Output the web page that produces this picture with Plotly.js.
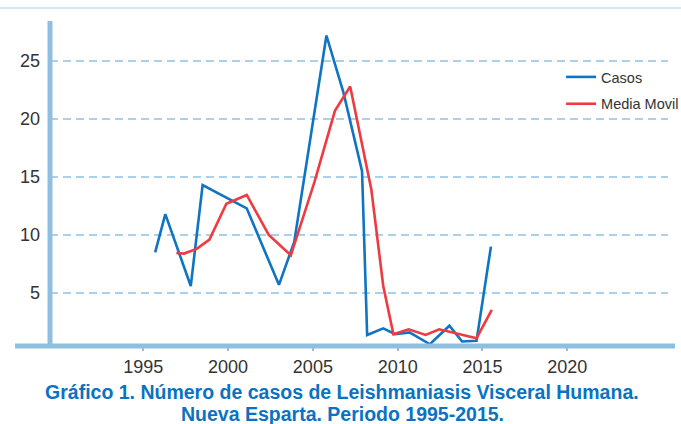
<!DOCTYPE html>
<html>
<head>
<meta charset="utf-8">
<script src="https://cdn.plot.ly/plotly-3.0.1.min.js"></script>
<style>html,body{margin:0;padding:0;background:#fff;}#chart{width:681px;height:424px;}</style>
</head>
<body>
<div id="chart"></div>
<script>
// Casos (blue)
const casosYear = [1995.7, 1996.3, 1997.8, 1998.5, 2001.1, 2003.0, 2003.9, 2005.8, 2006.8, 2007.9, 2008.2, 2009.15, 2009.85, 2010.7, 2011.9, 2013.05, 2013.8, 2014.65, 2015.5];
const casos     = [8.5, 11.8, 5.6, 14.3, 12.3, 5.7, 9.4, 27.2, 22.3, 15.5, 1.38, 1.95, 1.45, 1.6, 0.58, 2.18, 0.82, 0.88, 9.0];
// Media Movil (red)
const mediaYear = [1996.95, 1997.4, 1998.15, 1998.9, 1999.9, 2001.1, 2002.4, 2003.7, 2005.1, 2006.3, 2007.2, 2008.45, 2009.15, 2009.75, 2010.65, 2011.65, 2012.45, 2013.85, 2014.65, 2015.55];
const media     = [8.45, 8.4, 8.8, 9.6, 12.7, 13.45, 10.0, 8.25, 14.6, 20.7, 22.8, 13.9, 5.6, 1.44, 1.87, 1.38, 1.87, 1.38, 1.1, 3.55];
const xTicks = [1995, 2000, 2005, 2010, 2015, 2020];
const yTicks = [5, 10, 15, 20, 25];
const titleLines = ["Gráfico 1. Número de casos de Leishmaniasis Visceral Humana.", "Nueva Esparta. Periodo 1995-2015."];

const axisBlue = "#8fbfe0";
const gridBlue = "#abd0ea";
const titleBlue = "#0a72c2";
const titleFont = {size: 19.5, color: titleBlue, family: "Liberation Sans, Arial, sans-serif", weight: "bold"};

const traces = [
  {x: casosYear, y: casos, type: "scatter", mode: "lines", name: "Casos", legendgroup: "a",
   line: {color: "#0f74c2", width: 2.6}},
  {x: mediaYear, y: media, type: "scatter", mode: "lines", name: "Media Movil", legendgroup: "b",
   line: {color: "#ee3a40", width: 2.6}}
];

const layout = {
  width: 681, height: 424,
  margin: {l: 50, r: 13, t: 21, b: 78, autoexpand: false},
  paper_bgcolor: "#fff", plot_bgcolor: "#fff",
  font: {family: "Liberation Sans, Arial, sans-serif", color: "#333"},
  showlegend: true,
  legend: {x: 0.827, xanchor: "left", y: 0.877, yanchor: "top",
           font: {size: 14.5, color: "#333"}, tracegroupgap: 5, bgcolor: "rgba(0,0,0,0)"},
  title: {text: titleLines[0], x: 0.502, xanchor: "center", xref: "container",
          y: 1 - 392 / 424, yanchor: "middle", yref: "container", automargin: false,
          font: titleFont},
  annotations: [
    {text: titleLines[1], xref: "paper", yref: "paper", showarrow: false,
     x: (342 - 50) / 618, xanchor: "center", y: (346 - 413.5) / 325, yanchor: "middle",
     font: titleFont}
  ],
  xaxis: {range: [1989.5, 2025.94], tickvals: xTicks, ticktext: xTicks.map(String),
          showgrid: false, zeroline: false, showline: false, automargin: false,
          ticks: "outside", ticklen: 4, tickwidth: 2, tickcolor: axisBlue,
          tickfont: {size: 18, color: "#333"}, ticklabelstandoff: 0},
  yaxis: {range: [0.43, 28.45], tickvals: yTicks, ticktext: yTicks.map(String),
          showgrid: true, gridcolor: gridBlue, gridwidth: 2, griddash: "8px,5px",
          zeroline: false, showline: false, ticks: "", automargin: false,
          tickfont: {size: 18, color: "#333"}, ticklabelstandoff: 9},
  shapes: [
    {type: "line", xref: "paper", yref: "paper", x0: 0, x1: 0, y0: 0, y1: 1,
     line: {color: axisBlue, width: 5}},
    {type: "line", xref: "paper", yref: "paper", x0: -0.0566, x1: 1.0113, y0: 0, y1: 0,
     line: {color: axisBlue, width: 5}},
    {type: "line", xref: "paper", yref: "paper", x0: -0.081, x1: 1.021, y0: 1.04, y1: 1.04,
     line: {color: "#c3e1f3", width: 1.5}}
  ]
};

Plotly.newPlot("chart", traces, layout, {displayModeBar: false, staticPlot: true});
</script>
</body>
</html>
